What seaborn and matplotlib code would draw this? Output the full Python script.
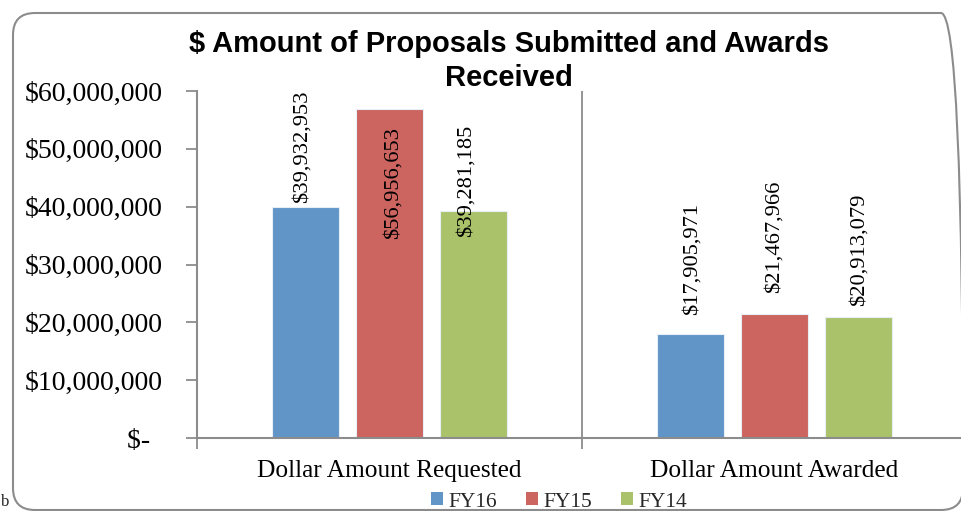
import matplotlib
matplotlib.use("Agg")
import matplotlib.pyplot as plt
import matplotlib.transforms as mtransforms
from matplotlib.patches import FancyBboxPatch, Patch
from matplotlib.ticker import FuncFormatter, FixedLocator
import seaborn as sns
import pandas as pd

# ---- data ----
categories = ["Dollar Amount Requested", "Dollar Amount Awarded"]
years = ["FY16", "FY15", "FY14"]
fy16 = [39932953, 17905971]
fy15 = [56956653, 21467966]
fy14 = [39281185, 20913079]
yticks = [0, 10000000, 20000000, 30000000, 40000000, 50000000, 60000000]
title = "$ Amount of Proposals Submitted and Awards\nReceived"

# ---- styles ----
colors = {"FY16": "#6195C8", "FY15": "#CC6460", "FY14": "#AAC36B"}
# label offsets in pixels (dx, dy) relative to bar top (text bottom anchored)
label_offsets = {
    "FY16": [(-3, 4), (2, 19)],
    "FY15": [(4, -130), (0, 21)],
    "FY14": [(-7, -26), (1, 11)],
}
gray = "#8C8C8C"

rows = []
for yr, vals in zip(years, [fy16, fy15, fy14]):
    for c, v in zip(categories, vals):
        rows.append({"category": c, "year": yr, "value": v})
df = pd.DataFrame(rows)

sns.set_theme(style="white")
plt.rcParams['font.family'] = ['Liberation Serif', 'DejaVu Serif']
plt.rcParams['text.parse_math'] = False

fig = plt.figure(figsize=(9.61, 5.11), dpi=100)
ax = fig.add_axes([197 / 961, 73 / 511, 770 / 961, 347 / 511])

sns.barplot(data=df, x="category", y="value", hue="year", order=categories,
            hue_order=years, palette=colors, width=0.655, gap=0.2,
            saturation=1, errorbar=None, legend=False, ax=ax,
            edgecolor="#E8EEF6", linewidth=0.8)

ax.set_xlim(-0.5, 1.5)
ax.set_ylim(0, 60000000)
ax.set_xlabel("")
ax.set_ylabel("")

# y axis
ax.yaxis.set_major_locator(FixedLocator(yticks))
ax.yaxis.set_major_formatter(FuncFormatter(
    lambda v, p: "$- \u2009" if v == 0 else "${:,.0f}".format(v)))
ax.tick_params(axis="y", direction="out", length=8, width=1.3, color=gray,
               left=True, labelsize=20, pad=17, labelcolor="black")

# x axis
ax.set_xticks([0, 1])
ax.set_xticklabels(categories)
ax.set_xticks([-0.5, 0.5, 1.5], minor=True)
ax.tick_params(axis="x", which="major", length=0, labelsize=18.3, pad=16,
               labelcolor="black")
ax.tick_params(axis="x", which="minor", direction="out", length=8, width=1.3,
               color=gray, bottom=True)

for side in ["top", "right"]:
    ax.spines[side].set_visible(False)
for side in ["left", "bottom"]:
    ax.spines[side].set_color(gray)
    ax.spines[side].set_linewidth(1.5)
ax.spines["bottom"].set_bounds(-0.5, 1.5)
ax.axvline(0.5, color=gray, linewidth=1.3, zorder=0)

# data labels
for yr, cont in zip(years, ax.containers):
    for i, bar in enumerate(cont):
        h = bar.get_height()
        xc = bar.get_x() + bar.get_width() / 2
        dx, dy = label_offsets[yr][i]
        ax.annotate("${:,.0f}".format(h), xy=(xc, h), xytext=(dx, dy),
                    textcoords="offset pixels", rotation=90, ha="center",
                    va="bottom", fontsize=16.2, color="black",
                    annotation_clip=False)

# title
fig.text(509 / 961, 1 - 61 / 511, title, ha="center", va="center",
         fontsize=21, fontweight="bold", color="black",
         family=["Liberation Sans", "DejaVu Sans"], linespacing=1.25)

# legend
handles = [Patch(facecolor=colors[y], edgecolor="none", label=y) for y in years]
fig.legend(handles=handles, loc="center", bbox_to_anchor=(559 / 961, 1 - 502 / 511),
           ncol=3, frameon=False, fontsize=15.5, handlelength=0.55, handleheight=0.55,
           handletextpad=0.25, columnspacing=1.35, borderpad=0, borderaxespad=0)

# rounded frame
frame = FancyBboxPatch((13, 1), 950, 497, boxstyle="round,pad=0,rounding_size=22",
                       transform=mtransforms.IdentityTransform(),
                       facecolor="none", edgecolor=gray, linewidth=1.5)
fig.add_artist(frame)
fig.text(1 / 961, 1 / 511, "b", fontsize=12, ha="left", va="bottom",
         family=["Liberation Serif", "DejaVu Serif"])

fig.savefig("out.png", dpi=100)
